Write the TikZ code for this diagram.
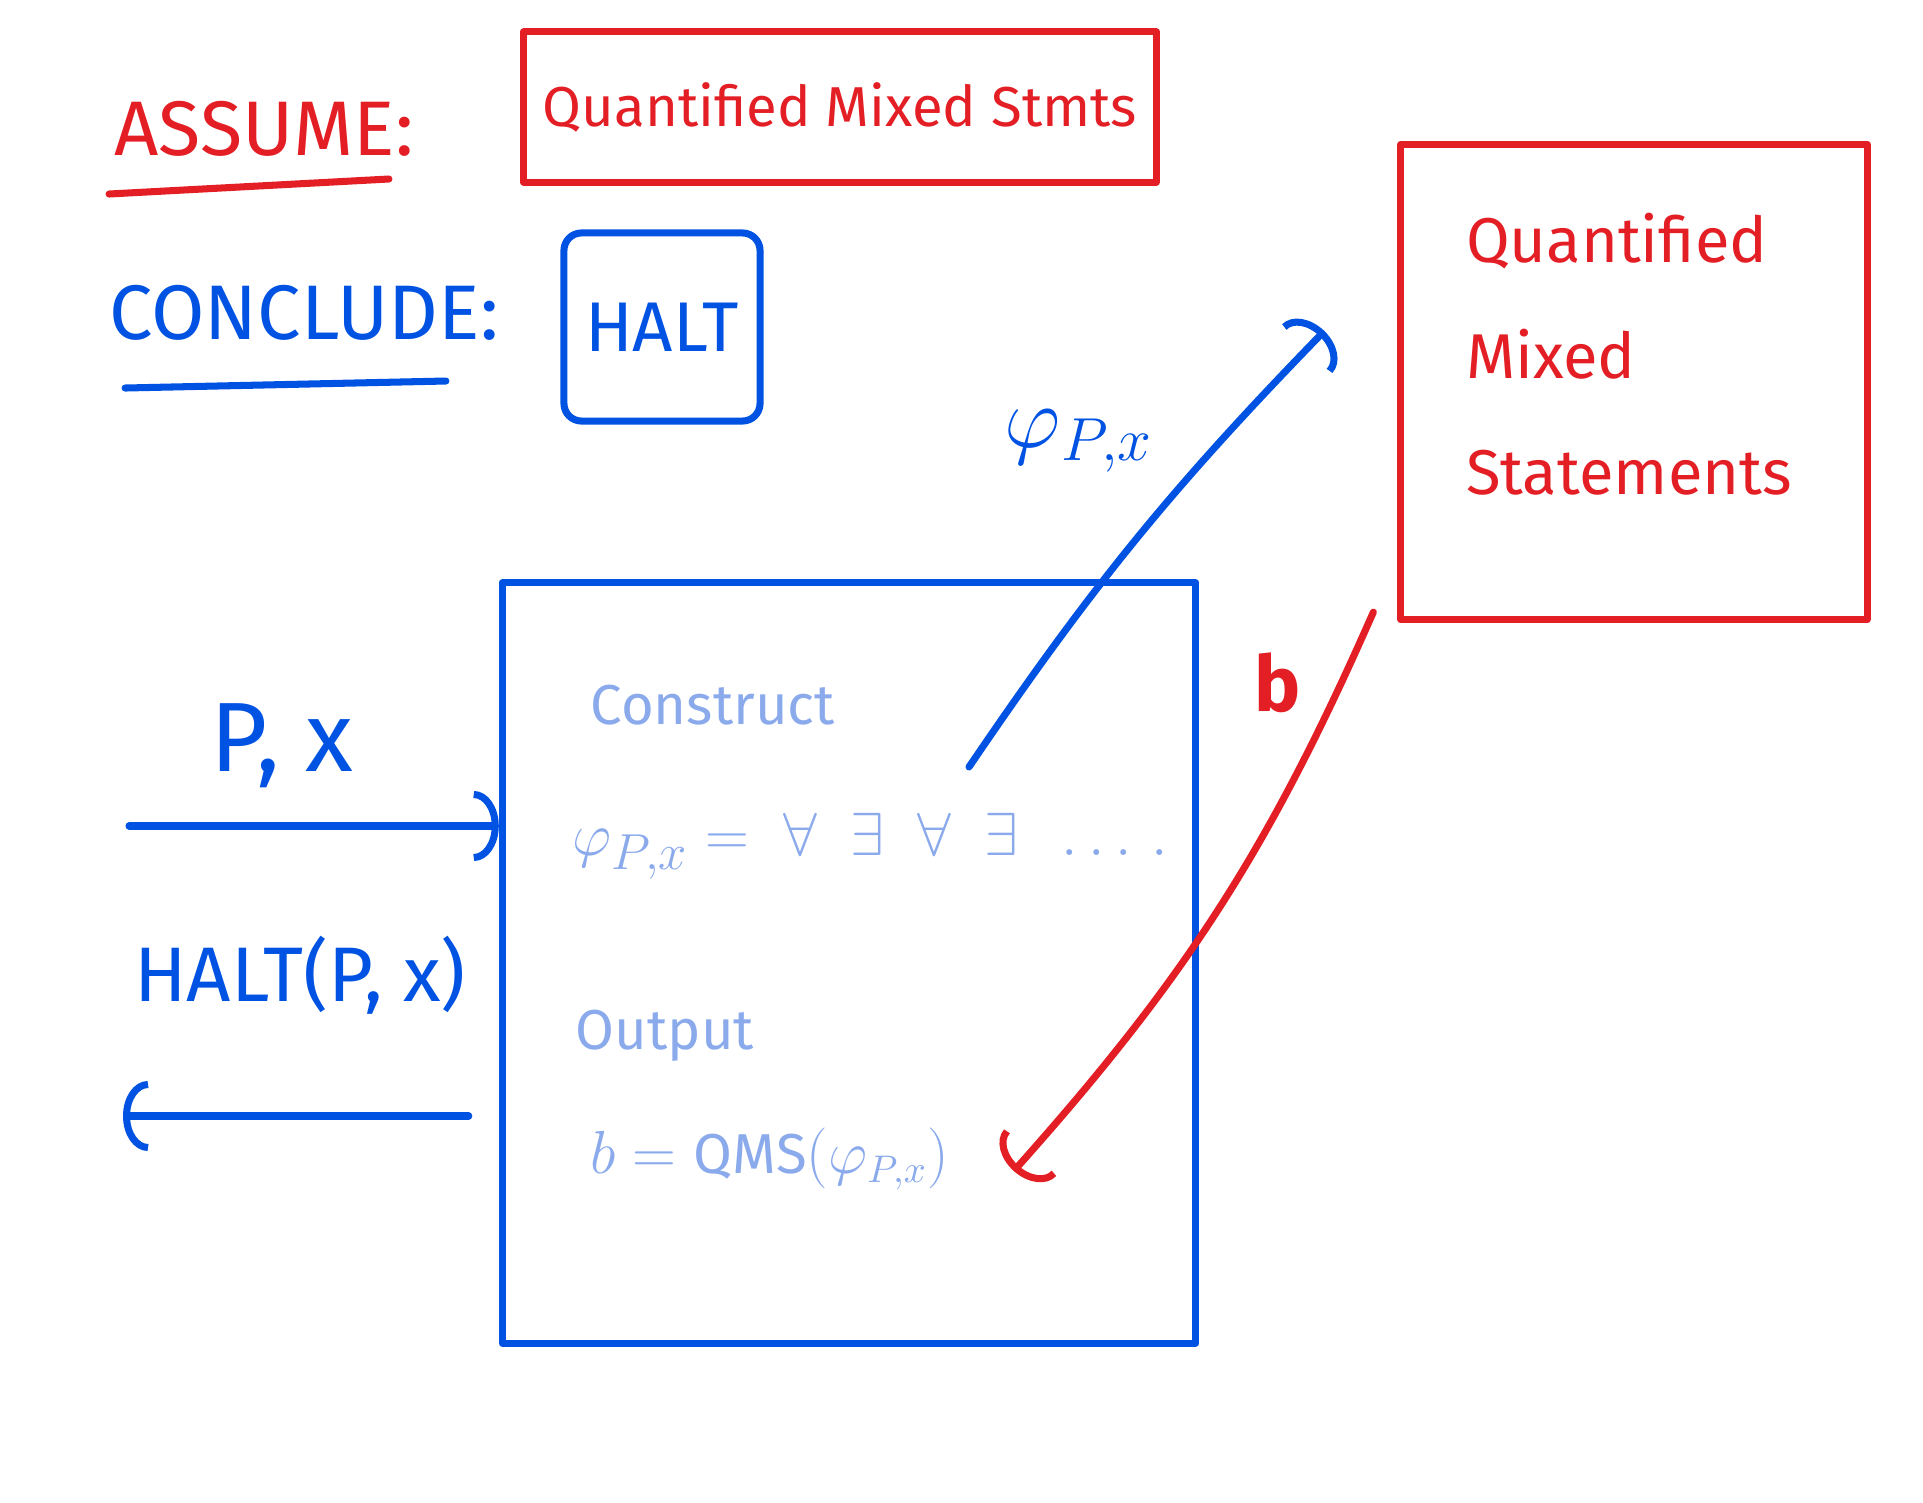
\documentclass[tikz,border=0pt]{standalone}
\usepackage{fontspec}
\setmainfont{Fira Sans}
\usetikzlibrary{arrows.meta,positioning}
\definecolor{penred}{RGB}{227,30,36}
\definecolor{penblue}{RGB}{0,82,227}
\definecolor{paleblue}{RGB}{138,170,236}

\begin{document}
\begin{tikzpicture}[x=0.01cm,y=-0.01cm]
  \tikzstyle{redpen}=[draw=penred,line width=2pt,line cap=round,line join=round]
  \tikzstyle{bluepen}=[draw=penblue,line width=2pt,line cap=round,line join=round]
  \tikzstyle{barb}=[-{Arc Barb[length=2.5mm,width=7mm]}]
  \tikzstyle{faint}=[text=paleblue,inner sep=0pt,anchor=west,font=\fontsize{16}{19}\selectfont]
  \useasboundingbox (0,0) rectangle (1923,1503);

  \node[text=penred,font=\fontsize{22}{26}\selectfont] (assume) at (264,129) {ASSUME:};
  \node[text=penblue,font=\fontsize{22}{26}\selectfont] (conclude) at (304,313) {CONCLUDE:};
  \draw[redpen] ([xshift=0.07cm,yshift=-0.25cm]assume.south west) -- ([xshift=-0.37cm,yshift=-0.1cm]assume.south east);
  \draw[bluepen] ([xshift=0.28cm,yshift=-0.35cm]conclude.south west) -- ([xshift=-0.65cm,yshift=-0.28cm]conclude.south east);

  \node[redpen,minimum width=6.32cm,minimum height=1.5cm,text=penred,font=\fontsize{16}{20}\selectfont] (qms) at (840,107) {Quantified Mixed Stmts};
  \node[bluepen,rounded corners=5pt,minimum width=1.96cm,minimum height=1.88cm,text=penblue,font=\fontsize{20}{24}\selectfont] (halt) at (662,327) {HALT};
  \node[redpen,minimum width=4.66cm,minimum height=4.75cm] (qmsbox) at (1634,382) {};
  \node[text=penred,align=left,font=\fontsize{18}{33}\selectfont] (stmts) at ([xshift=-0.05cm,yshift=0.28cm]qmsbox.center) {Quantified\\Mixed\\Statements};

  \node[bluepen,minimum width=6.93cm,minimum height=7.6cm] (mach) at (849,963) {};
  \node[faint] (construct) at (590,705) {Construct};
  \node[faint,font=\fontsize{19}{23}\selectfont] (phi) at (572,846) {$\varphi_{P,x} = \;\forall\enspace\exists\enspace\forall\enspace\exists\enspace\ldots\,.$};
  \node[faint] (output) at (575,1036) {Output};
  \node[faint] (result) at (590,1159) {$b = \mathrm{QMS}(\varphi_{P,x})$};

  \node[text=penblue,font=\fontsize{28}{32}\selectfont] (px) at (282,746) {P, x};
  \node[text=penblue,font=\fontsize{22}{26}\selectfont] (haltpx) at (300,975) {HALT(P, x)};
  \coordinate (in) at (129,826);
  \coordinate (out) at (123,1116);
  \draw[bluepen,barb] (in) -- (in -| mach.west);
  \draw[bluepen,barb,shorten <=0.3cm] (out -| mach.west) -- (out);

  \coordinate (phiout) at (969,767);
  \draw[bluepen,barb] (phiout) to[bend left=5] ([shift={(-73,-51)}]qmsbox.west);
  \node[text=penblue,font=\fontsize{26}{30}\selectfont] (philab) at (1079,441) {$\varphi_{P,x}$};

  \draw[redpen,barb] ([shift={(-24,-11)}]qmsbox.south west) to[bend left=9] ([shift={(64,12)}]result.east);
  \node[text=penred,font=\bfseries\fontsize{22}{26}\selectfont] (blab) at (1278,683) {b};
\end{tikzpicture}
\end{document}
